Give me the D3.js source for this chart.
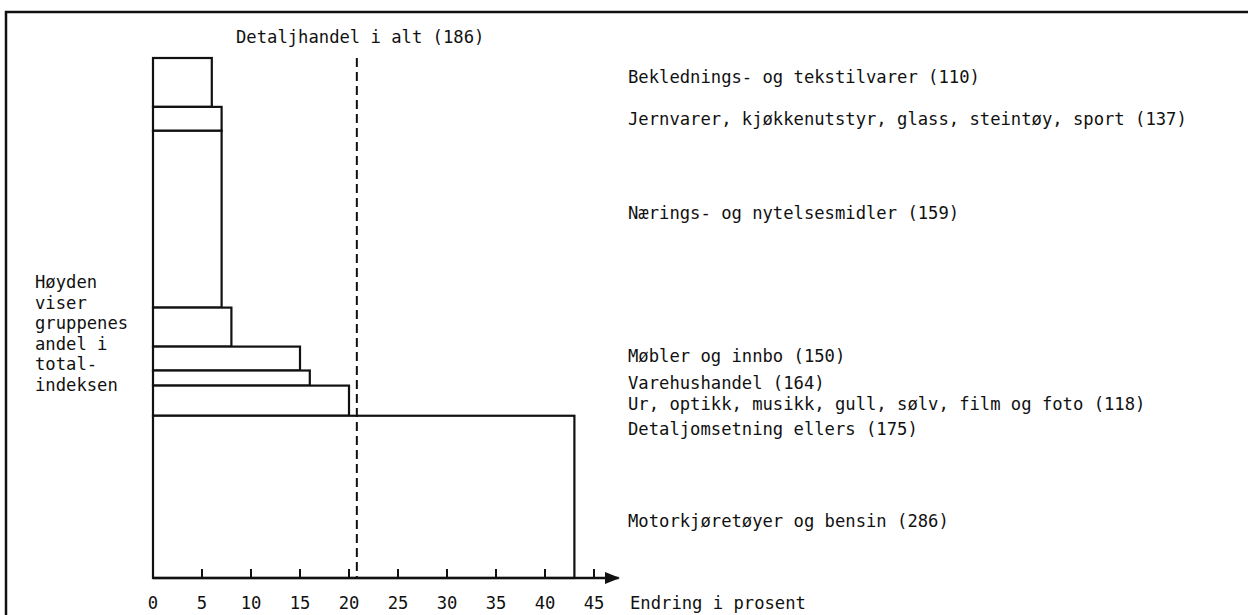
<!DOCTYPE html>
<html>
<head>
<meta charset="utf-8">
<script src="https://cdn.jsdelivr.net/npm/d3@7"></script>
<style>
  body { margin: 0; background: #fff; }
  text { font-family: "DejaVu Sans Mono", monospace; font-size: 17.2px; fill: #111; }
</style>
</head>
<body>
<div id="chart"></div>
<script>
// retail groups, top to bottom
const groups = ['Beklednings- og tekstilvarer', 'Jernvarer, kjøkkenutstyr, glass, steintøy, sport',
  'Nærings- og nytelsesmidler', 'Møbler og innbo', 'Varehushandel',
  'Ur, optikk, musikk, gull, sølv, film og foto', 'Detaljomsetning ellers', 'Motorkjøretøyer og bensin']
const indexValues = [110, 137, 159, 150, 164, 118, 175, 286]
// change in percent (bar width)
const changes = [6, 7, 7, 8, 15, 16, 20, 43]
// share of the total index (bar height)
const shares = [9.4, 4.6, 34.0, 7.5, 4.6, 2.9, 5.8, 31.2]
const totalLabel = 'Detaljhandel i alt'
const totalIndex = 186
const totalChange = 20.8
const xTicks = [0, 5, 10, 15, 20, 25, 30, 35, 40, 45]
const noteLines = ['Høyden', 'viser', 'gruppenes', 'andel i', 'total-', 'indeksen']

var width = 1248, height = 615

var svg = d3.select('#chart').append('svg')
  .attr('width', width)
  .attr('height', height)

var x = d3.scaleLinear().domain([0, 45]).range([153, 594])
var y = d3.scaleLinear().domain([0, 100]).range([578, 58])

// the typed labels do not sit exactly at the middle of their bars
const labelShift = [-4, 1, -5, 30, 25, 27, 29, 25]

// frame (only left and top visible)
svg.append('path')
  .attr('d', 'M6,615 V12 H1248')
  .attr('fill', 'none')
  .attr('stroke', '#111')
  .attr('stroke-width', 2.5)

// stack the bars from the top
let cum = 0
const bars = groups.map((g, i) => {
  const top = cum
  cum += shares[i]
  return { name: g, index: indexValues[i], change: changes[i], y0: 100 - top, y1: 100 - cum, shift: labelShift[i] }
})

svg.selectAll('rect.bar')
  .data(bars)
  .enter()
  .append('rect')
  .attr('class', 'bar')
  .attr('x', x(0))
  .attr('y', d => y(d.y0))
  .attr('width', d => x(d.change) - x(0))
  .attr('height', d => y(d.y1) - y(d.y0))
  .attr('fill', 'white')
  .attr('stroke', '#111')
  .attr('stroke-width', 2.2)

svg.selectAll('text.cat')
  .data(bars)
  .enter()
  .append('text')
  .attr('class', 'cat')
  .attr('x', 628)
  .attr('y', d => (y(d.y0) + y(d.y1)) / 2 + d.shift)
  .attr('dominant-baseline', 'middle')
  .text(d => d.name + ' (' + d.index + ')')

// x axis with arrow
svg.append('defs').append('marker')
  .attr('id', 'arrow')
  .attr('viewBox', '0 0 10 10')
  .attr('refX', 9).attr('refY', 5)
  .attr('markerWidth', 6).attr('markerHeight', 6)
  .attr('orient', 'auto')
  .append('path')
  .attr('d', 'M0,1 L10,5 L0,9 Z')
  .attr('fill', '#111')

svg.append('line')
  .attr('x1', x(0)).attr('x2', x(47.5))
  .attr('y1', y(0)).attr('y2', y(0))
  .attr('stroke', '#111')
  .attr('stroke-width', 2.5)
  .attr('marker-end', 'url(#arrow)')

svg.selectAll('line.tick')
  .data(xTicks.filter(t => t > 0))
  .enter()
  .append('line')
  .attr('class', 'tick')
  .attr('x1', d => x(d)).attr('x2', d => x(d))
  .attr('y1', y(0)).attr('y2', y(0) - 9)
  .attr('stroke', '#111')
  .attr('stroke-width', 2)

svg.selectAll('text.tickl')
  .data(xTicks)
  .enter()
  .append('text')
  .attr('class', 'tickl')
  .attr('x', d => x(d))
  .attr('y', y(0) + 26)
  .attr('dominant-baseline', 'middle')
  .attr('text-anchor', 'middle')
  .text(d => d)

svg.append('text')
  .attr('x', 630)
  .attr('y', y(0) + 26)
  .attr('dominant-baseline', 'middle')
  .text('Endring i prosent')

// total retail line
svg.append('line')
  .attr('x1', x(totalChange)).attr('x2', x(totalChange))
  .attr('y1', y(100)).attr('y2', y(0))
  .attr('stroke', '#111')
  .attr('stroke-width', 2)
  .attr('stroke-dasharray', '9,5')

svg.append('text')
  .attr('x', 236)
  .attr('y', 38)
  .attr('dominant-baseline', 'middle')
  .text(totalLabel + ' (' + totalIndex + ')')

// note on the left
svg.selectAll('text.note')
  .data(noteLines)
  .enter()
  .append('text')
  .attr('class', 'note')
  .attr('x', 35)
  .attr('y', (d, i) => 283 + i * 20.5)
  .attr('dominant-baseline', 'middle')
  .text(d => d)
</script>
</body>
</html>
